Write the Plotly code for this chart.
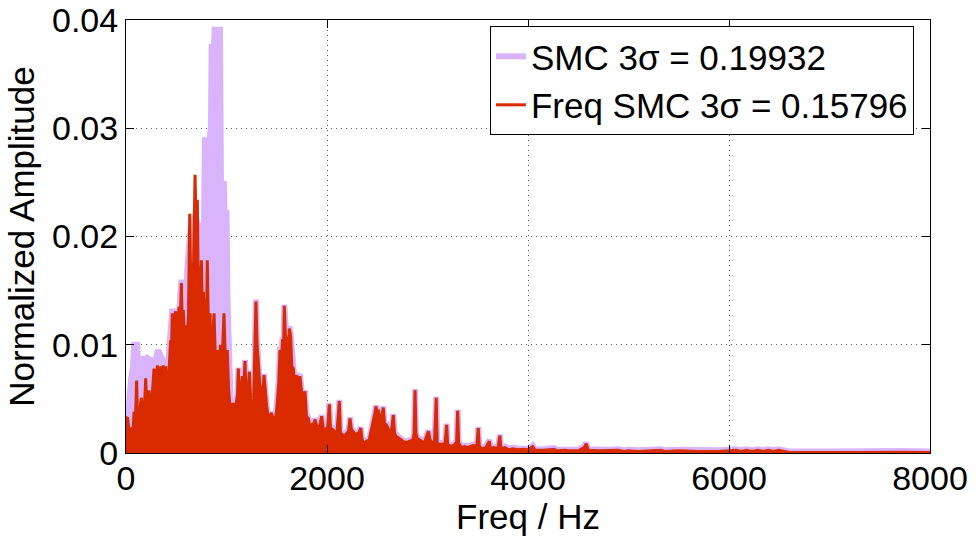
import plotly.graph_objects as go

# ---------------- data ----------------
# Freq SMC (red) spectrum: frequency [Hz] and normalized amplitude
freq_smc_hz = [
    0, 8, 15, 30, 50, 70, 80, 92, 106, 115, 130, 153, 165, 182, 196, 205, 214, 229, 240, 258,
    279, 290, 300, 312, 322, 333, 345, 356, 371, 382, 395, 405, 411, 425, 444, 452, 461, 470, 478, 494,
    503, 511, 520, 527, 540, 551, 560, 570, 582, 594, 603, 610, 622, 634, 643, 653, 665, 677, 687, 698,
    705, 710, 718, 726, 738, 750, 760, 770, 780, 790, 800, 809, 820, 836, 846, 860, 876, 890, 909, 925,
    940, 955, 966, 975, 990, 1008, 1020, 1035, 1045, 1052, 1068, 1080, 1095, 1110, 1118, 1127, 1140, 1157, 1168, 1184,
    1195, 1210, 1227, 1240, 1255, 1270, 1284, 1293, 1303, 1315, 1330, 1345, 1360, 1373, 1385, 1400, 1420, 1435, 1449, 1462,
    1475, 1490, 1505, 1520, 1532, 1545, 1558, 1567, 1575, 1585, 1600, 1612, 1625, 1638, 1650, 1665, 1680, 1698, 1712, 1731,
    1745, 1760, 1781, 1795, 1814, 1830, 1850, 1865, 1880, 1898, 1915, 1930, 1947, 1960, 1975, 1990, 2005, 2023, 2035, 2050,
    2065, 2080, 2100, 2123, 2133, 2150, 2175, 2200, 2215, 2229, 2242, 2260, 2280, 2300, 2320, 2335, 2350, 2372, 2395, 2420,
    2440, 2460, 2475, 2488, 2500, 2510, 2525, 2540, 2550, 2560, 2572, 2590, 2610, 2630, 2645, 2660, 2672, 2690, 2710, 2740,
    2770, 2800, 2830, 2855, 2867, 2876, 2885, 2900, 2925, 2950, 2975, 2995, 3009, 3025, 3050, 3070, 3080, 3087, 3096, 3120,
    3150, 3175, 3190, 3200, 3230, 3260, 3290, 3300, 3310, 3340, 3370, 3400, 3430, 3460, 3490, 3505, 3515, 3545, 3580, 3615,
    3625, 3660, 3700, 3720, 3730, 3770, 3810, 3850, 3900, 3950, 4000, 4047, 4070, 4150, 4259, 4290, 4366, 4400, 4500, 4560,
    4579, 4600, 4700, 4800, 4898, 4950, 5000, 5100, 5323, 5360, 5500, 5700, 5900, 6070, 6120, 6175, 6230, 6285, 6340, 6390,
    6440, 6495, 6550, 6600, 7000, 7260, 7300, 7690, 8000,
]
freq_smc_amp = [
    0.0034, 0.0015, 0.0033, 0.0020, 0.0022, 0.0018, 0.0038, 0.0025, 0.0067, 0.0030, 0.0034, 0.0051, 0.0035, 0.0040, 0.0069, 0.0045, 0.0051, 0.0058, 0.0040, 0.0050,
    0.0078, 0.0052, 0.0060, 0.0081, 0.0067, 0.0055, 0.0080, 0.0060, 0.0081, 0.0065, 0.0080, 0.0065, 0.0055, 0.0070, 0.0104, 0.0090, 0.0129, 0.0100, 0.0120, 0.0131,
    0.0105, 0.0091, 0.0115, 0.0135, 0.0120, 0.0157, 0.0115, 0.0132, 0.0105, 0.0118, 0.0090, 0.0107, 0.0130, 0.0221, 0.0160, 0.0175, 0.0130, 0.0200, 0.0257, 0.0205,
    0.0190, 0.0234, 0.0160, 0.0172, 0.0125, 0.0178, 0.0130, 0.0149, 0.0115, 0.0142, 0.0110, 0.0178, 0.0115, 0.0129, 0.0095, 0.0100, 0.0129, 0.0085, 0.0095, 0.0075,
    0.0100, 0.0080, 0.0120, 0.0129, 0.0080, 0.0095, 0.0060, 0.0046, 0.0030, 0.0045, 0.0045, 0.0032, 0.0045, 0.0055, 0.0078, 0.0049, 0.0050, 0.0071, 0.0050, 0.0085,
    0.0052, 0.0050, 0.0075, 0.0050, 0.0040, 0.0050, 0.0105, 0.0140, 0.0102, 0.0080, 0.0065, 0.0055, 0.0050, 0.0072, 0.0055, 0.0043, 0.0030, 0.0035, 0.0037, 0.0028,
    0.0034, 0.0032, 0.0046, 0.0065, 0.0095, 0.0080, 0.0105, 0.0090, 0.0136, 0.0110, 0.0102, 0.0090, 0.0115, 0.0108, 0.0080, 0.0078, 0.0060, 0.0072, 0.0060, 0.0071,
    0.0058, 0.0050, 0.0057, 0.0034, 0.0032, 0.0024, 0.0026, 0.0022, 0.0031, 0.0025, 0.0023, 0.0026, 0.0034, 0.0024, 0.0020, 0.0022, 0.0020, 0.0045, 0.0020, 0.0022,
    0.0021, 0.0018, 0.0020, 0.0048, 0.0019, 0.0017, 0.0016, 0.0019, 0.0020, 0.0032, 0.0022, 0.0020, 0.0017, 0.0018, 0.0019, 0.0023, 0.0012, 0.0009, 0.0011, 0.0012,
    0.0020, 0.0028, 0.0036, 0.0043, 0.0035, 0.0040, 0.0033, 0.0030, 0.0035, 0.0042, 0.0027, 0.0026, 0.0022, 0.0018, 0.0023, 0.0035, 0.0018, 0.0015, 0.0014, 0.0012,
    0.0010, 0.0010, 0.0011, 0.0012, 0.0018, 0.0058, 0.0018, 0.0013, 0.0012, 0.0010, 0.0011, 0.0016, 0.0020, 0.0012, 0.0009, 0.0010, 0.0030, 0.0051, 0.0009, 0.0008,
    0.0008, 0.0009, 0.0026, 0.0008, 0.0006, 0.0007, 0.0010, 0.0039, 0.0009, 0.0005, 0.0006, 0.0005, 0.0006, 0.0007, 0.0005, 0.0023, 0.0006, 0.0004, 0.0005, 0.0011,
    0.0004, 0.0005, 0.0004, 0.0016, 0.0004, 0.0005, 0.0003, 0.0004, 0.0003, 0.00035, 0.0003, 0.0006, 0.00025, 0.00025, 0.00035, 0.0002, 0.00025, 0.0002, 0.0002, 0.0005,
    0.00085, 0.00025, 0.0002, 0.0002, 0.00025, 0.00015, 0.0002, 0.00015, 0.00025, 0.00015, 0.0002, 0.00015, 0.00015, 0.00025, 0.00015, 0.00025, 0.00015, 0.00025, 0.00015, 0.00025,
    0.00015, 0.00025, 0.00015, 0.00005, 0.00005, 0.0001, 0.00005, 0.00008, 0.00005,
]

# SMC (light purple) spectrum: frequency [Hz] and normalized amplitude
smc_hz = [
    0, 10, 20, 35, 50, 70, 80, 112, 120, 135, 160, 185, 210, 245, 260, 280, 295, 312, 330, 360,
    380, 395, 411, 425, 444, 461, 478, 494, 511, 527, 551, 570, 594, 610, 625, 640, 660, 680, 690, 700,
    720, 740, 760, 775, 785, 830, 845, 852, 875, 882, 935, 945, 975, 980, 1000, 1010, 1025, 1040, 1052, 1068,
    1080, 1095, 1110, 1118, 1127, 1140, 1157, 1168, 1184, 1195, 1210, 1227, 1240, 1255, 1270, 1284, 1293, 1303, 1315, 1330,
    1345, 1360, 1373, 1385, 1400, 1420, 1435, 1449, 1462, 1475, 1490, 1505, 1520, 1532, 1545, 1558, 1567, 1575, 1585, 1600,
    1612, 1625, 1638, 1650, 1665, 1680, 1698, 1712, 1731, 1745, 1760, 1781, 1795, 1814, 1830, 1850, 1865, 1880, 1898, 1915,
    1930, 1947, 1960, 1975, 1990, 2005, 2023, 2035, 2050, 2065, 2080, 2100, 2123, 2133, 2150, 2175, 2200, 2215, 2229, 2242,
    2260, 2280, 2300, 2320, 2335, 2350, 2372, 2395, 2420, 2440, 2460, 2475, 2488, 2500, 2510, 2525, 2540, 2550, 2560, 2572,
    2590, 2610, 2630, 2645, 2660, 2672, 2690, 2710, 2740, 2770, 2800, 2830, 2855, 2867, 2876, 2885, 2900, 2925, 2950, 2975,
    2995, 3009, 3025, 3050, 3070, 3080, 3087, 3096, 3120, 3150, 3175, 3190, 3200, 3230, 3260, 3290, 3300, 3310, 3340, 3370,
    3400, 3430, 3460, 3490, 3505, 3515, 3545, 3580, 3615, 3625, 3660, 3700, 3720, 3730, 3770, 3810, 3850, 3900, 3950, 4000,
    4047, 4070, 4150, 4259, 4290, 4366, 4400, 4500, 4560, 4579, 4600, 4700, 4800, 4898, 4950, 5000, 5100, 5323, 5360, 5500,
    5700, 5900, 6070, 6120, 6175, 6230, 6285, 6340, 6390, 6440, 6495, 6550, 6600, 7000, 7260, 7300, 7690, 8000,
]
smc_amp = [
    0.0030, 0.0020, 0.0035, 0.0060, 0.0068, 0.0080, 0.0100, 0.0100, 0.0075, 0.0086, 0.0087, 0.0086, 0.0088, 0.0086, 0.0075, 0.0080, 0.0086, 0.0093, 0.0093, 0.0086,
    0.0082, 0.0083, 0.0070, 0.0090, 0.0115, 0.0133, 0.0125, 0.0133, 0.0105, 0.0138, 0.0160, 0.0138, 0.0125, 0.0170, 0.0195, 0.0205, 0.0210, 0.0215, 0.0220, 0.0215,
    0.0210, 0.0210, 0.0175, 0.0200, 0.0289, 0.0289, 0.0300, 0.0375, 0.0375, 0.0391, 0.0391, 0.0250, 0.0249, 0.0222, 0.0222, 0.0142, 0.0052, 0.0050, 0.0046, 0.0046,
    0.0034, 0.0046, 0.0056, 0.0079, 0.0050, 0.0051, 0.0072, 0.0051, 0.0086, 0.0053, 0.0051, 0.0076, 0.0051, 0.0041, 0.0051, 0.0106, 0.0142, 0.0103, 0.0081, 0.0066,
    0.0056, 0.0051, 0.0073, 0.0056, 0.0044, 0.0031, 0.0036, 0.0038, 0.0029, 0.0035, 0.0033, 0.0047, 0.0068, 0.0098, 0.0085, 0.0107, 0.0092, 0.0137, 0.0112, 0.0104,
    0.0092, 0.0117, 0.0110, 0.0082, 0.0080, 0.0062, 0.0074, 0.0062, 0.0073, 0.0060, 0.0052, 0.0058, 0.0036, 0.0033, 0.0025, 0.0027, 0.0023, 0.0032, 0.0026, 0.0024,
    0.0027, 0.0035, 0.0025, 0.0021, 0.0023, 0.0021, 0.0046, 0.0021, 0.0023, 0.0022, 0.0019, 0.0021, 0.0049, 0.0020, 0.0018, 0.0017, 0.0020, 0.0021, 0.0033, 0.0023,
    0.0021, 0.0018, 0.0019, 0.0020, 0.0024, 0.0013, 0.0010, 0.0012, 0.0013, 0.0021, 0.0029, 0.0037, 0.0044, 0.0036, 0.0041, 0.0034, 0.0031, 0.0036, 0.0043, 0.0028,
    0.0027, 0.0023, 0.0019, 0.0024, 0.0036, 0.0019, 0.0016, 0.0015, 0.0013, 0.0011, 0.0011, 0.0012, 0.0013, 0.0019, 0.0059, 0.0019, 0.0014, 0.0013, 0.0011, 0.0012,
    0.0017, 0.0021, 0.0013, 0.0010, 0.0011, 0.0031, 0.0052, 0.0010, 0.0009, 0.0009, 0.0010, 0.0027, 0.0009, 0.0007, 0.0008, 0.0011, 0.0040, 0.0010, 0.0006, 0.0007,
    0.0006, 0.0007, 0.0008, 0.0006, 0.0024, 0.0007, 0.0005, 0.0006, 0.0012, 0.0005, 0.0006, 0.0005, 0.0017, 0.0005, 0.0006, 0.0004, 0.0005, 0.0004, 0.00045, 0.0004,
    0.0007, 0.00035, 0.00035, 0.00045, 0.0003, 0.00035, 0.0003, 0.0003, 0.0006, 0.00095, 0.00035, 0.0003, 0.0003, 0.00035, 0.00025, 0.0003, 0.00025, 0.00035, 0.00025, 0.0003,
    0.00025, 0.00025, 0.00035, 0.00025, 0.00035, 0.00025, 0.00035, 0.00025, 0.00035, 0.00025, 0.00035, 0.00025, 0.00015, 0.00015, 0.0002, 0.00015, 0.00018, 0.00015,
]

x_ticks = [0, 2000, 4000, 6000, 8000]
x_tick_labels = ["0", "2000", "4000", "6000", "8000"]
y_ticks = [0, 0.01, 0.02, 0.03, 0.04]
y_tick_labels = ["0", "0.01", "0.02", "0.03", "0.04"]

smc_label = "SMC 3σ = 0.19932"
freq_smc_label = "Freq SMC 3σ = 0.15796"

# ---------------- styles ----------------
PURPLE = "#D9B4FB"
RED = "#D92A00"
FONT = "Liberation Sans, Arial, Helvetica, sans-serif"

fig = go.Figure()

fig.add_trace(go.Scatter(
    x=smc_hz, y=smc_amp, mode="lines",
    line=dict(color=PURPLE, width=6), fill="tozeroy", fillcolor=PURPLE,
    showlegend=False, hoverinfo="skip",
))
fig.add_trace(go.Scatter(
    x=freq_smc_hz, y=freq_smc_amp, mode="lines",
    line=dict(color=RED, width=3), fill="tozeroy", fillcolor=RED,
    showlegend=False, hoverinfo="skip",
))
# legend entries (line samples only)
fig.add_trace(go.Scatter(x=[None], y=[None], mode="lines", name=smc_label,
                         line=dict(color=PURPLE, width=6)))
fig.add_trace(go.Scatter(x=[None], y=[None], mode="lines", name=freq_smc_label,
                         line=dict(color=RED, width=3)))

axis_common = dict(
    showline=True, linecolor="black", linewidth=1, mirror="ticks",
    ticks="inside", ticklen=8, tickwidth=1, tickcolor="black",
    showgrid=True, gridcolor="#555555", gridwidth=1, griddash="1px,4px",
    zeroline=False,
    tickfont=dict(family=FONT, size=34, color="black"),
)

fig.update_xaxes(
    range=[0, 8000], tickvals=x_ticks, ticktext=x_tick_labels,
    ticklabelstandoff=-5,
    title=dict(text="Freq / Hz", font=dict(family=FONT, size=35, color="black"), standoff=2),
    automargin=False, **axis_common,
)
fig.update_yaxes(
    range=[0, 0.04], tickvals=y_ticks, ticktext=y_tick_labels,
    title=dict(text="Normalized Amplitude", font=dict(family=FONT, size=35, color="black"), standoff=6),
    automargin=False, **axis_common,
)

fig.update_layout(
    width=976, height=536,
    margin=dict(l=126, r=46, t=20, b=83),
    paper_bgcolor="white", plot_bgcolor="white",
    font=dict(family=FONT, size=35, color="black"),
    legend=dict(
        x=0.980, xanchor="right", y=0.986, yanchor="top",
        bgcolor="white", bordercolor="black", borderwidth=1,
        font=dict(family=FONT, size=35, color="black"),
        tracegroupgap=0,
    ),
)

fig.write_html("out.html")
